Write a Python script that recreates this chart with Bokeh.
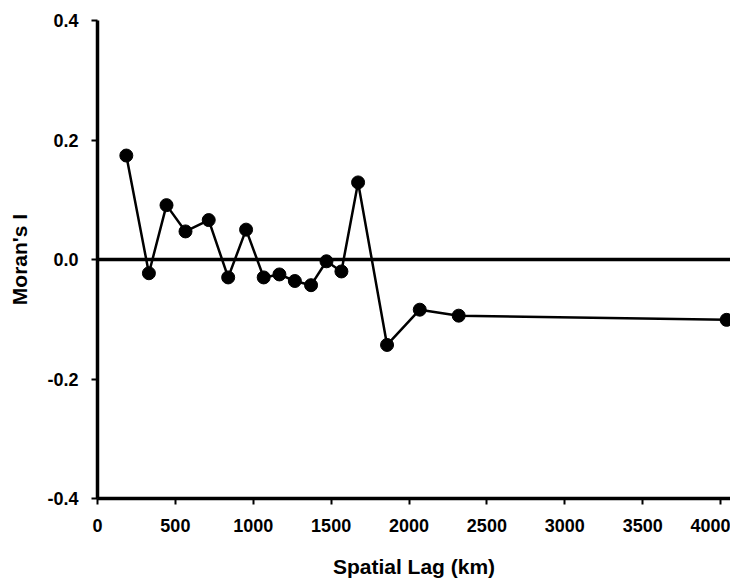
from bokeh.plotting import figure
from bokeh.models import Range1d, Span, FixedTicker, PrintfTickFormatter
from bokeh.embed import file_html
from bokeh.resources import INLINE

# Data
lag_km = [185, 330, 443, 565, 714, 839, 954, 1067, 1168, 1267, 1371, 1470, 1566, 1673, 1859, 2069, 2319, 4039]
morans_i = [0.174, -0.023, 0.091, 0.047, 0.066, -0.030, 0.050, -0.030, -0.025, -0.036, -0.043, -0.003, -0.020, 0.129, -0.143, -0.084, -0.094, -0.101]
x_ticks = [0, 500, 1000, 1500, 2000, 2500, 3000, 3500, 4000]
y_ticks = [-0.4, -0.2, 0.0, 0.2, 0.4]

FONT = "Liberation Sans"

p = figure(width=730, height=580, output_backend="svg", toolbar_location=None,
           x_range=Range1d(0, 4064), y_range=Range1d(-0.4, 0.4),
           min_border_left=97, min_border_right=0, min_border_top=20, min_border_bottom=80)

p.outline_line_color = None
p.xgrid.visible = False
p.ygrid.visible = False
p.background_fill_color = "white"
p.border_fill_color = "white"

zero = Span(location=0, dimension="width", line_color="black", line_width=3.5)
p.add_layout(zero)

p.line(lag_km, morans_i, line_color="black", line_width=2.5)
p.scatter(lag_km, morans_i, size=13, fill_color="black", line_color="black")

for ax in (p.xaxis[0], p.yaxis[0]):
    ax.axis_line_width = 3.5
    ax.axis_line_color = "black"
    ax.major_tick_line_width = 2
    ax.major_tick_line_color = "black"
    ax.major_tick_out = 6
    ax.major_tick_in = 0
    ax.minor_tick_line_color = None
    ax.major_label_text_font = FONT
    ax.major_label_text_font_style = "bold"
    ax.major_label_text_font_size = "18px"
    ax.major_label_text_color = "black"
    ax.axis_label_text_font = FONT
    ax.axis_label_text_font_style = "bold"
    ax.axis_label_text_font_size = "21px"
    ax.axis_label_text_color = "black"

p.xaxis.ticker = FixedTicker(ticks=x_ticks)
p.yaxis.ticker = FixedTicker(ticks=y_ticks)
p.yaxis.formatter = PrintfTickFormatter(format="%.1f")
p.xaxis.major_label_standoff = 14
p.yaxis.major_label_standoff = 13
p.xaxis.axis_label = "Spatial Lag (km)"
p.yaxis.axis_label = "Moran's I"
p.xaxis.axis_label_standoff = 20
p.yaxis.axis_label_standoff = 13

open("out.html", "w").write(file_html(p, INLINE))
